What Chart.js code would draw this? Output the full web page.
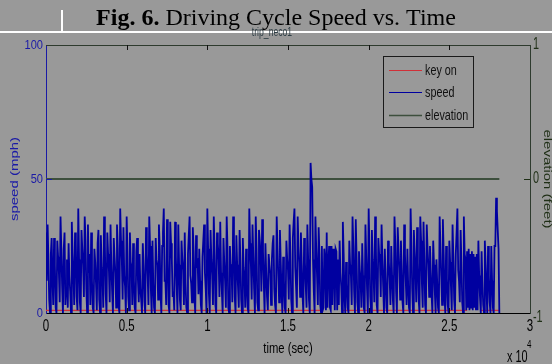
<!DOCTYPE html>
<html><head><meta charset="utf-8">
<script src="https://cdn.jsdelivr.net/npm/chart.js@4/dist/chart.umd.min.js"></script>
<style>html,body{margin:0;padding:0;background:#999999;overflow:hidden}#wrap{position:relative;width:552px;height:364px}</style>
</head><body><div id="wrap"><canvas id="c" width="552" height="364"></canvas></div>
<script>
// ---- data ----
const sampleStepSec = 50;          // seconds between speed samples
const speedMph = [
  30,12,33,20,5,0,22,28,12,3,28,18,2,0,27,21,15,4,36,24,10,0,24,30,3,9,20,2,26,14,8,0,34,22,14,3,30,26,6,1,
  39,20,4,0,31,24,18,6,36,27,9,0,33,15,22,3,30,12,2,0,24,19,11,1,26,31,5,0,29,17,13,2,36,25,7,0,30,22,16,4,
  33,18,8,0,28,21,15,2,33,24,3,0,39,27,20,5,32,14,10,0,36,23,6,1,30,19,17,3,26,12,2,0,23,28,12,4,22,9,5,0,
  26,17,4,0,32,22,14,3,36,25,9,0,27,11,2,0,28,20,18,5,33,24,7,0,25,30,39,12,12,3,35,20,3,0,34,26,20,6,8,1,
  34,21,10,0,33,18,5,1,27,20,16,3,30,11,2,0,22,29,36,14,11,4,32,23,6,0,29,18,19,7,24,12,3,0,21,27,33,15,9,0,
  39,24,7,0,31,20,14,3,36,22,3,0,30,26,20,6,34,15,8,0,28,19,12,2,36,24,2,0,25,16,17,4,36,28,6,0,29,18,10,2,
  31,20,5,0,28,17,13,2,24,10,2,0,39,26,18,5,33,21,9,0,36,24,4,1,31,27,22,8,35,23,11,0,26,15,6,1,22,18,15,3,
  20,26,29,9,3,0,36,24,14,4,31,19,8,0,21,12,2,0,27,20,16,5,33,22,5,0,28,34,39,17,10,2,36,25,19,6,30,18,7,0,
  28,19,10,2,33,20,5,0,56,50,47,20,8,0,36,24,14,3,32,22,3,0,25,1,2,24,20,1,30,2,18,25,2,1,25,3,24,19,1,24,
  23,1,20,3,27,15,10,0,34,22,6,0,19,11,2,0,27,18,14,3,36,25,8,0,35,21,4,0,23,16,12,2,26,14,2,0,33,21,9,0,
  39,23,6,0,31,20,15,4,36,24,3,0,28,22,19,6,33,20,10,0,24,13,2,0,27,19,13,3,25,14,5,0,36,26,8,0,32,24,17,5,
  27,16,4,0,33,22,12,3,24,10,2,0,39,25,9,0,31,23,16,4,32,19,5,0,36,27,11,2,34,20,3,0,33,24,18,6,25,15,7,0,
  27,18,8,0,20,11,2,0,36,25,14,3,35,22,6,0,25,13,3,0,27,19,10,1,33,21,5,0,22,30,39,16,12,4,31,19,4,0,36,22,
  20,1,23,2,24,1,22,2,23,1,22,2,21,1,22,1,27,14,6,0,23,12,3,0,27,18,9,0,25,14,4,0,25,12,2,0,25,25,43,38,31,24,0
];
const keyOnIntervals = [[0,17000],[18300,26100],[26900,28100]];
const keyOnLevel = 1;
const elevationTimes = [0, 28100];
const elevationFeet = [0, 0];
const xTicks = [0,5000,10000,15000,20000,25000,30000];
const xTickLabels = ['0','0.5','1','1.5','2','2.5','3'];
const speedTicks = [0,50,100];
const elevTicks = [-1,0,1];
const legendLabels = ['key on','speed','elevation'];

// ---- build datasets ----
const speedData = speedMph.map((v,i)=>({x:i*sampleStepSec,y:v}));
const keyOnData = [];
keyOnIntervals.forEach(([a,b])=>{keyOnData.push({x:a,y:keyOnLevel},{x:b,y:keyOnLevel},{x:b,y:null});});
const elevData = elevationTimes.map((t,i)=>({x:t,y:elevationFeet[i]}));

const C_SPEED='#0000a0', C_KEY='#d03038', C_ELEV='#3d4f3d', C_BLUE='#1a1aa6', C_GREEN='#1f2f16';

function txt(ctx,s,x,y,font,color,align,base,sx){
  ctx.save();ctx.translate(x,y);ctx.scale(sx||1,1);
  ctx.font=font;ctx.fillStyle=color;ctx.textAlign=align||'left';ctx.textBaseline=base||'alphabetic';
  ctx.fillText(s,0,0);ctx.restore();
}
function rtxt(ctx,s,x,y,font,color,angle,sx){
  ctx.save();ctx.translate(x,y);ctx.scale(sx||1,1);ctx.rotate(angle);
  ctx.font=font;ctx.fillStyle=color;ctx.textAlign='center';ctx.textBaseline='middle';
  ctx.fillText(s,0,0);ctx.restore();
}

const deco = {
  id:'deco',
  beforeDraw(chart){
    const ctx=chart.ctx;ctx.save();ctx.fillStyle='#999999';ctx.fillRect(0,0,chart.width,chart.height);ctx.restore();
  },
  afterDraw(chart){
    const ctx=chart.ctx, a=chart.chartArea, sx=chart.scales.x, sy=chart.scales.y, sy2=chart.scales.y2;
    const SX=0.72;
    ctx.save();
    ctx.strokeStyle='#2e3b2e';ctx.lineWidth=1;
    ctx.beginPath();ctx.moveTo(a.left,a.top+0.5);ctx.lineTo(a.right,a.top+0.5);ctx.stroke();
    ctx.strokeStyle='#111';
    xTicks.slice(1,-1).forEach(v=>{const p=Math.round(sx.getPixelForValue(v))+0.5;
      ctx.beginPath();ctx.moveTo(p,a.bottom);ctx.lineTo(p,a.bottom-5);ctx.stroke();
      ctx.beginPath();ctx.moveTo(p,a.top);ctx.lineTo(p,a.top+5);ctx.stroke();});
    ctx.strokeStyle=C_BLUE;
    speedTicks.slice(1,-1).forEach(v=>{const p=Math.round(sy.getPixelForValue(v))+0.5;
      ctx.beginPath();ctx.moveTo(a.left,p);ctx.lineTo(a.left+6,p);ctx.stroke();});
    ctx.strokeStyle=C_GREEN;
    elevTicks.slice(1,-1).forEach(v=>{const p=Math.round(sy2.getPixelForValue(v))+0.5;
      ctx.beginPath();ctx.moveTo(a.right,p);ctx.lineTo(a.right-6,p);ctx.stroke();});
    xTicks.forEach((v,i)=>txt(ctx,xTickLabels[i],sx.getPixelForValue(v),327,'16px "Liberation Sans"','#000','center','middle',SX));
    speedTicks.forEach(v=>txt(ctx,String(v),a.left-3,sy.getPixelForValue(v),'13px "Liberation Sans"',C_BLUE,'right','middle',0.85));
    elevTicks.forEach(v=>txt(ctx,String(v),a.right+3,sy2.getPixelForValue(v)+(v<0?5:0),'16px "Liberation Sans"',C_GREEN,'left','middle',0.68));
    txt(ctx,'time (sec)',(a.left+a.right)/2,349,'15px "Liberation Sans"','#000','center','middle',0.75);
    txt(ctx,'x 10',507,362,'16px "Liberation Sans"','#000','left','alphabetic',0.68);
    txt(ctx,'4',527,348,'10px "Liberation Sans"','#000','left','alphabetic',0.8);
    rtxt(ctx,'speed (mph)',15,(a.top+a.bottom)/2,'15px "Liberation Sans"',C_BLUE,-Math.PI/2,SX);
    rtxt(ctx,'elevation (feet)',547,(a.top+a.bottom)/2,'15px "Liberation Sans"',C_GREEN,Math.PI/2,SX);
    const lx=383.5, ly=56.5, lw=90, lh=71;
    ctx.fillStyle='#999999';ctx.fillRect(lx,ly,lw,lh);
    ctx.strokeStyle='#1a1a1a';ctx.lineWidth=1;ctx.strokeRect(lx,ly,lw,lh);
    const cols=[C_KEY,C_SPEED,C_ELEV], rows=[70.5,92.5,115.5];
    legendLabels.forEach((s,i)=>{
      ctx.strokeStyle=cols[i];ctx.lineWidth=i===2?1.5:1;
      ctx.beginPath();ctx.moveTo(389,rows[i]);ctx.lineTo(422,rows[i]);ctx.stroke();
      txt(ctx,s,425,rows[i],'15px "Liberation Sans"','#111','left','middle',SX);
    });
    ctx.fillStyle='#ffffff';ctx.fillRect(0,31,chart.width,2);ctx.fillRect(61,10,2,22);
    txt(ctx,'trip_neco1',272,33,'12px "Liberation Sans"','#2f3f46','center','middle',SX);
    ctx.font='bold 24px "Liberation Serif"';const w1=ctx.measureText('Fig. 6.').width;
    ctx.font='24px "Liberation Serif"';const w2=ctx.measureText(' Driving Cycle Speed vs. Time').width;
    const x0=276-(w1+w2)/2;
    txt(ctx,'Fig. 6.',x0,25,'bold 24px "Liberation Serif"','#000','left','alphabetic',1);
    txt(ctx,' Driving Cycle Speed vs. Time',x0+w1,25,'24px "Liberation Serif"','#000','left','alphabetic',1);
    ctx.restore();
  }
};

new Chart(document.getElementById('c'),{
  type:'line',
  data:{datasets:[
    {label:'speed',data:speedData,borderColor:C_SPEED,borderWidth:1.8,pointRadius:0,yAxisID:'y',tension:0},
    {label:'key on',data:keyOnData,borderColor:C_KEY,borderWidth:1.2,pointRadius:0,yAxisID:'y',spanGaps:false},
    {label:'elevation',data:elevData,borderColor:C_ELEV,borderWidth:2,pointRadius:0,yAxisID:'y2'}
  ]},
  options:{
    responsive:false,animation:false,devicePixelRatio:1,
    layout:{padding:{top:45,left:0,right:0,bottom:0}},
    plugins:{legend:{display:false},tooltip:{enabled:false},title:{display:false}},
    scales:{
      x:{type:'linear',min:0,max:30000,grid:{display:false,drawTicks:false},ticks:{display:false},
         border:{display:true,color:'#000',width:1},afterFit(s){s.height=51;}},
      y:{type:'linear',position:'left',min:0,max:100,grid:{display:false,drawTicks:false},ticks:{display:false},
         border:{display:true,color:C_BLUE,width:1},afterFit(s){s.width=46;}},
      y2:{type:'linear',position:'right',min:-1,max:1,grid:{display:false,drawTicks:false},ticks:{display:false},
         border:{display:true,color:'#2e3b2e',width:1},afterFit(s){s.width=22;}}
    }
  },
  plugins:[deco]
});
</script></body></html>
